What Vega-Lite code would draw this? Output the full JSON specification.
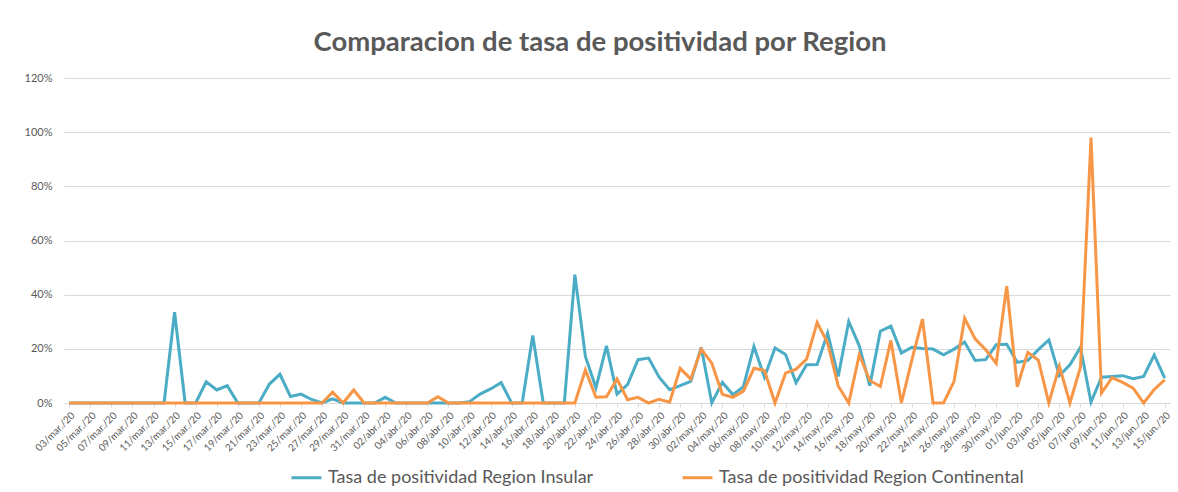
{
  "$schema": "https://vega.github.io/schema/vega-lite/v6.json",
  "autosize": {"type": "none"},
  "width": 1106,
  "height": 325,
  "padding": {"left": 64, "top": 78, "right": 8, "bottom": 89},
  "background": "white",
  "title": {
    "text": "Comparacion de tasa de positividad por Region",
    "font": "Lato",
    "fontSize": 27.5,
    "fontWeight": "bold",
    "color": "#595959",
    "anchor": "middle",
    "dx": -17,
    "offset": 16
  },
  "data": {"values": [
    {"f":"03/mar./20","ins":0,"con":0},
    {"f":"04/mar./20","ins":0,"con":0},
    {"f":"05/mar./20","ins":0,"con":0},
    {"f":"06/mar./20","ins":0,"con":0},
    {"f":"07/mar./20","ins":0,"con":0},
    {"f":"08/mar./20","ins":0,"con":0},
    {"f":"09/mar./20","ins":0,"con":0},
    {"f":"10/mar./20","ins":0,"con":0},
    {"f":"11/mar./20","ins":0,"con":0},
    {"f":"12/mar./20","ins":0,"con":0},
    {"f":"13/mar./20","ins":0.335,"con":0},
    {"f":"14/mar./20","ins":0,"con":0},
    {"f":"15/mar./20","ins":0,"con":0},
    {"f":"16/mar./20","ins":0.078,"con":0},
    {"f":"17/mar./20","ins":0.048,"con":0},
    {"f":"18/mar./20","ins":0.064,"con":0},
    {"f":"19/mar./20","ins":0,"con":0},
    {"f":"20/mar./20","ins":0,"con":0},
    {"f":"21/mar./20","ins":0,"con":0},
    {"f":"22/mar./20","ins":0.07,"con":0},
    {"f":"23/mar./20","ins":0.106,"con":0},
    {"f":"24/mar./20","ins":0.024,"con":0},
    {"f":"25/mar./20","ins":0.033,"con":0},
    {"f":"26/mar./20","ins":0.013,"con":0},
    {"f":"27/mar./20","ins":0,"con":0},
    {"f":"28/mar./20","ins":0.015,"con":0.04},
    {"f":"29/mar./20","ins":0,"con":0},
    {"f":"30/mar./20","ins":0,"con":0.048},
    {"f":"31/mar./20","ins":0,"con":0},
    {"f":"01/abr./20","ins":0,"con":0},
    {"f":"02/abr./20","ins":0.021,"con":0},
    {"f":"03/abr./20","ins":0,"con":0},
    {"f":"04/abr./20","ins":0,"con":0},
    {"f":"05/abr./20","ins":0,"con":0},
    {"f":"06/abr./20","ins":0,"con":0},
    {"f":"07/abr./20","ins":0,"con":0.023},
    {"f":"08/abr./20","ins":0,"con":0},
    {"f":"09/abr./20","ins":0,"con":0},
    {"f":"10/abr./20","ins":0.005,"con":0},
    {"f":"11/abr./20","ins":0.033,"con":0},
    {"f":"12/abr./20","ins":0.052,"con":0},
    {"f":"13/abr./20","ins":0.075,"con":0},
    {"f":"14/abr./20","ins":0,"con":0},
    {"f":"15/abr./20","ins":0,"con":0},
    {"f":"16/abr./20","ins":0.249,"con":0},
    {"f":"17/abr./20","ins":0,"con":0},
    {"f":"18/abr./20","ins":0,"con":0},
    {"f":"19/abr./20","ins":0,"con":0},
    {"f":"20/abr./20","ins":0.474,"con":0},
    {"f":"21/abr./20","ins":0.172,"con":0.122},
    {"f":"22/abr./20","ins":0.056,"con":0.021},
    {"f":"23/abr./20","ins":0.211,"con":0.023},
    {"f":"24/abr./20","ins":0.033,"con":0.089},
    {"f":"25/abr./20","ins":0.068,"con":0.012},
    {"f":"26/abr./20","ins":0.16,"con":0.021},
    {"f":"27/abr./20","ins":0.166,"con":0},
    {"f":"28/abr./20","ins":0.095,"con":0.014},
    {"f":"29/abr./20","ins":0.049,"con":0.003},
    {"f":"30/abr./20","ins":0.064,"con":0.128},
    {"f":"01/may./20","ins":0.08,"con":0.089},
    {"f":"02/may./20","ins":0.205,"con":0.199},
    {"f":"03/may./20","ins":0,"con":0.147},
    {"f":"04/may./20","ins":0.076,"con":0.032},
    {"f":"05/may./20","ins":0.031,"con":0.021},
    {"f":"06/may./20","ins":0.06,"con":0.044},
    {"f":"07/may./20","ins":0.209,"con":0.128},
    {"f":"08/may./20","ins":0.095,"con":0.12},
    {"f":"09/may./20","ins":0.203,"con":0},
    {"f":"10/may./20","ins":0.179,"con":0.11},
    {"f":"11/may./20","ins":0.075,"con":0.125},
    {"f":"12/may./20","ins":0.141,"con":0.162},
    {"f":"13/may./20","ins":0.142,"con":0.297},
    {"f":"14/may./20","ins":0.258,"con":0.221},
    {"f":"15/may./20","ins":0.098,"con":0.063},
    {"f":"16/may./20","ins":0.301,"con":0},
    {"f":"17/may./20","ins":0.211,"con":0.178},
    {"f":"18/may./20","ins":0.064,"con":0.083},
    {"f":"19/may./20","ins":0.265,"con":0.061},
    {"f":"20/may./20","ins":0.284,"con":0.231},
    {"f":"21/may./20","ins":0.184,"con":0},
    {"f":"22/may./20","ins":0.206,"con":0.16},
    {"f":"23/may./20","ins":0.201,"con":0.31},
    {"f":"24/may./20","ins":0.199,"con":0},
    {"f":"25/may./20","ins":0.178,"con":0},
    {"f":"26/may./20","ins":0.199,"con":0.08},
    {"f":"27/may./20","ins":0.225,"con":0.313},
    {"f":"28/may./20","ins":0.157,"con":0.237},
    {"f":"29/may./20","ins":0.16,"con":0.197},
    {"f":"30/may./20","ins":0.215,"con":0.146},
    {"f":"31/may./20","ins":0.217,"con":0.431},
    {"f":"01/jun./20","ins":0.15,"con":0.06},
    {"f":"02/jun./20","ins":0.157,"con":0.187},
    {"f":"03/jun./20","ins":0.197,"con":0.158},
    {"f":"04/jun./20","ins":0.233,"con":0},
    {"f":"05/jun./20","ins":0.101,"con":0.136},
    {"f":"06/jun./20","ins":0.141,"con":0},
    {"f":"07/jun./20","ins":0.206,"con":0.132},
    {"f":"08/jun./20","ins":0.003,"con":0.98},
    {"f":"09/jun./20","ins":0.095,"con":0.037},
    {"f":"10/jun./20","ins":0.098,"con":0.094},
    {"f":"11/jun./20","ins":0.101,"con":0.076},
    {"f":"12/jun./20","ins":0.09,"con":0.055},
    {"f":"13/jun./20","ins":0.098,"con":0},
    {"f":"14/jun./20","ins":0.177,"con":0.05},
    {"f":"15/jun./20","ins":0.092,"con":0.085}
  ]},
  "transform": [{"fold": ["ins", "con"], "as": ["serie", "valor"]}],
  "mark": {"type": "line", "strokeWidth": 3},
  "encoding": {
    "x": {
      "field": "f",
      "type": "ordinal",
      "sort": null,
      "scale": {"type": "point", "padding": 0.5},
      "axis": {
        "title": null,
        "values": ["03/mar./20","05/mar./20","07/mar./20","09/mar./20","11/mar./20","13/mar./20","15/mar./20","17/mar./20","19/mar./20","21/mar./20","23/mar./20","25/mar./20","27/mar./20","29/mar./20","31/mar./20","02/abr./20","04/abr./20","06/abr./20","08/abr./20","10/abr./20","12/abr./20","14/abr./20","16/abr./20","18/abr./20","20/abr./20","22/abr./20","24/abr./20","26/abr./20","28/abr./20","30/abr./20","02/may./20","04/may./20","06/may./20","08/may./20","10/may./20","12/may./20","14/may./20","16/may./20","18/may./20","20/may./20","22/may./20","24/may./20","26/may./20","28/may./20","30/may./20","01/jun./20","03/jun./20","05/jun./20","07/jun./20","09/jun./20","11/jun./20","13/jun./20","15/jun./20"],
        "labelAngle": -45,
        "labelOverlap": false,
        "labelFont": "Lato",
        "labelFontSize": 10,
        "labelColor": "#595959",
        "labelPadding": 3,
        "domainColor": "#d9d9d9",
        "tickColor": "#d9d9d9",
        "tickSize": 4,
        "grid": false
      }
    },
    "y": {
      "field": "valor",
      "type": "quantitative",
      "scale": {"domain": [0, 1.2]},
      "axis": {
        "title": null,
        "values": [0, 0.2, 0.4, 0.6, 0.8, 1.0, 1.2],
        "format": ".0%",
        "domain": false,
        "ticks": false,
        "labelPadding": 12,
        "labelFont": "Lato",
        "labelFontSize": 11,
        "labelColor": "#595959",
        "gridColor": "#d9d9d9",
        "gridWidth": 1
      }
    },
    "color": {
      "field": "serie",
      "type": "nominal",
      "sort": null,
      "scale": {"domain": ["ins", "con"], "range": ["#4BACC6", "#F79646"]},
      "legend": {
        "title": null,
        "orient": "none",
        "legendX": 226,
        "legendY": 383,
        "direction": "horizontal",
        "symbolType": "stroke",
        "symbolSize": 900,
        "symbolStrokeWidth": 3,
        "labelFont": "Lato",
        "labelFontSize": 18,
        "labelColor": "#595959",
        "labelOffset": 5,
        "labelLimit": 0,
        "columnPadding": 82,
        "labelExpr": "datum.label == 'ins' ? 'Tasa de positividad Region Insular' : 'Tasa de positividad Region Continental'"
      }
    }
  },
  "config": {"view": {"stroke": null}}
}
